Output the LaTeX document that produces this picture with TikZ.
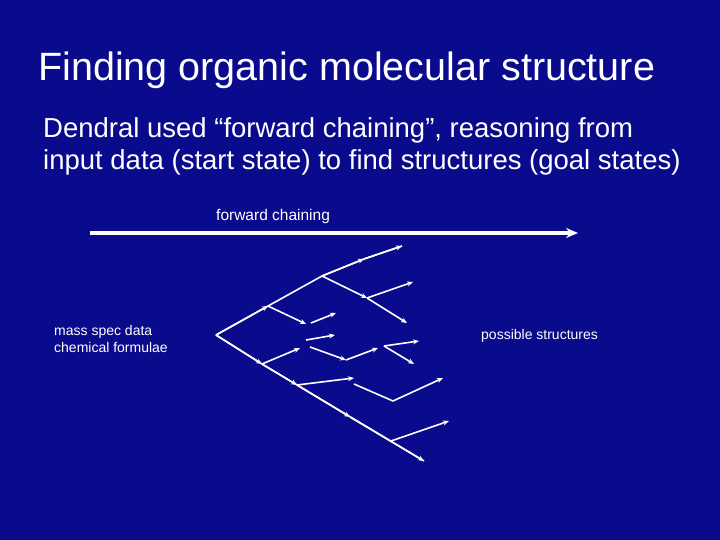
\documentclass[tikz,border=0pt]{standalone}
\usepackage{fontspec}
\setmainfont{Liberation Sans}
\usetikzlibrary{arrows.meta}
\definecolor{slideblue}{RGB}{10,10,140}
\tikzset{
    branch/.style={
      -{Stealth[length=6pt,width=5pt]}, %arrow head
      white, line width=1.6pt,
    },
    plain/.style={white, line width=1.6pt},
    label/.style={white, anchor=west, inner sep=0pt, font=\fontsize{14}{17}\selectfont}
  }
\begin{document}
\begin{tikzpicture}[x=1pt, y=-1pt]
  \fill[slideblue] (0,0) rectangle (720,540);
  \useasboundingbox (0,0) rectangle (720,540);
  \node[anchor=west, white, inner sep=0pt, font=\fontsize{39.5}{44}\selectfont] (title) at (38,70) {Finding organic molecular structure};
  \node[anchor=west, white, inner sep=0pt, align=left, font=\fontsize{27.5}{32}\selectfont] (intro) at (43,146)
    {Dendral used “forward chaining”, reasoning from\\input data (start state) to find structures (goal states)};
  \node[label, font=\fontsize{15.5}{18}\selectfont] (fc) at (216,216) {forward chaining};
  \coordinate (fcl) at (90,233);
  \coordinate (fcr) at (578,233);
  \draw[-{Stealth[length=12pt,width=10pt]}, white, line width=4pt] (fcl) -- (fcr);
  \node[label, align=left, font=\fontsize{14}{17}\selectfont] (input) at (54,339) {mass spec data\\chemical formulae};
  \node[label] (goal) at (481,336) {possible structures};
  % tree
  \coordinate (r) at (216,335);
  \coordinate (a) at (268,306);
  \coordinate (b) at (322,276);
  \coordinate (c) at (364,259);
  \coordinate (c1) at (402,246);
  \coordinate (d) at (367,298);
  \coordinate (d1) at (413,282);
  \coordinate (d2) at (407,323);
  \coordinate (e) at (306,324);
  \coordinate (e0) at (311,323);
  \coordinate (e1) at (336,313);
  \coordinate (f) at (262,364);
  \coordinate (g) at (300,348);
  \coordinate (g0) at (306,340);
  \coordinate (g1) at (335,335);
  \coordinate (h0) at (310,347);
  \coordinate (h) at (346,360);
  \coordinate (h1) at (378,348);
  \coordinate (k) at (384,346);
  \coordinate (k1) at (419,341);
  \coordinate (k2) at (414,364);
  \coordinate (m) at (297,385);
  \coordinate (m1) at (354,378);
  \coordinate (n0) at (354,384);
  \coordinate (n) at (393,401);
  \coordinate (n1) at (443,378);
  \coordinate (p) at (350,417);
  \coordinate (q) at (391,441);
  \coordinate (q1) at (449,421);
  \coordinate (s) at (424,461);

  \draw[plain] (r) -- (a) -- (b) -- (c) -- (c1);
  \draw[branch] (r) -- (a);
  \draw[branch] (b) -- (c);
  \draw[branch] (c) -- (c1);
  \draw[branch] (b) -- (d);
  \draw[branch] (d) -- (d1);
  \draw[branch] (d) -- (d2);
  \draw[branch] (a) -- (e);
  \draw[branch] (e0) -- (e1);
  \draw[plain] (r) -- (f) -- (s);
  \draw[branch] (r) -- (f);
  \draw[branch] (f) -- (m);
  \draw[branch] (m) -- (p);
  \draw[branch] (p) -- (s);
  \draw[branch] (f) -- (g);
  \draw[branch] (g0) -- (g1);
  \draw[branch] (h0) -- (h);
  \draw[branch] (h) -- (h1);
  \draw[branch] (k) -- (k1);
  \draw[branch] (k) -- (k2);
  \draw[branch] (m) -- (m1);
  \draw[plain] (n0) -- (n);
  \draw[branch] (n) -- (n1);
  \draw[branch] (q) -- (q1);
\end{tikzpicture}
\end{document}
